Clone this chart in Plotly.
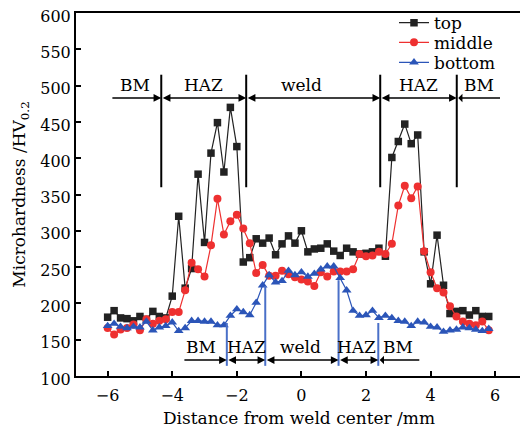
import plotly.graph_objects as go

# distance from weld center (mm)
x_pos = [round(-6.0 + 0.2 * i, 1) for i in range(60)]

top = [181, 190, 180, 179, 176, 182, 178, 189, 182, 180,
       210, 320, 221, 248, 378, 284, 407, 449, 381, 470,
       416, 257, 263, 289, 283, 290, 267, 282, 293, 283,
       300, 271, 275, 276, 282, 272, 266, 276, 271, 268,
       269, 271, 276, 265, 401, 423, 447, 420, 432, 271,
       227, 294, 225, 186, 189, 190, 184, 190, 182, 182]

middle = [166, 157, 164, 166, 171, 163, 178, 172, 176, 178,
          188, 188, 218, 256, 247, 237, 280, 344, 295, 313,
          322, 303, 283, 242, 253, 238, 238, 245, 240, 236,
          233, 230, 224, 243, 237, 244, 244, 244, 247, 268,
          265, 266, 271, 268, 282, 335, 362, 345, 361, 272,
          243, 221, 215, 196, 182, 175, 172, 170, 175, 163]

bottom = [169, 172, 168, 166, 168, 167, 175, 163, 167, 169,
          174, 162, 166, 176, 176, 175, 175, 170, 170, 183,
          192, 188, 184, 201, 225, 239, 229, 231, 245, 239,
          243, 237, 241, 247, 251, 251, 235, 218, 190, 183,
          184, 190, 180, 183, 180, 176, 175, 169, 175, 174,
          168, 167, 161, 163, 164, 167, 166, 164, 162, 165]

# zone boundaries and labels
top_bounds = [-4.34, -1.71, 2.44, 4.81]
top_span = [-5.9, 6.15]
top_labels = ["BM", "HAZ", "weld", "HAZ", "BM"]
top_label_x = [-5.15, -3.04, 0.0, 3.64, 5.5]

bot_bounds = [-2.31, -1.12, 1.15, 2.38]
bot_span = [-3.67, 3.65]
bot_labels = ["BM", "HAZ", "weld", "HAZ", "BM"]
bot_label_x = [-3.11, -1.71, -0.04, 1.71, 3.0]
bot_line_top = [173, 224, 232, 173]

FONT = "DejaVu Serif"
BLACK = "#222222"
RED = "#ee3030"
BLUE = "#2b55b8"

fig = go.Figure()
fig.add_trace(go.Scatter(x=x_pos, y=top, name="top", mode="lines+markers",
                         line=dict(color=BLACK, width=1.2), legend="legend",
                         marker=dict(symbol="square", size=7.5, color=BLACK)))
fig.add_trace(go.Scatter(x=x_pos, y=middle, name="middle", mode="lines+markers",
                         line=dict(color=RED, width=1.2), legend="legend2",
                         marker=dict(symbol="circle", size=8, color=RED)))
fig.add_trace(go.Scatter(x=x_pos, y=bottom, name="bottom", mode="lines+markers",
                         line=dict(color=BLUE, width=1.2), legend="legend3",
                         marker=dict(symbol="triangle-up", size=8.5, color=BLUE)))

shapes = []
for b in top_bounds:
    shapes.append(dict(type="line", xref="x", yref="y", x0=b, x1=b, y0=360, y1=515,
                       line=dict(color="black", width=2)))
for b, yt in zip(bot_bounds, bot_line_top):
    shapes.append(dict(type="line", xref="x", yref="y", x0=b, x1=b, y0=114, y1=yt,
                       line=dict(color="#4a70c8", width=2)))

annotations = []

def add_arrows(span, bounds, yv):
    pts = [span[0]] + bounds + [span[1]]
    n = len(pts) - 1
    for i in range(n):
        a, b = pts[i], pts[i + 1]
        if i == 0:
            side = "end"
        elif i == n - 1:
            side = "start"
        else:
            side = "end+start"
        annotations.append(dict(x=b, y=yv, ax=a, ay=yv, xref="x", yref="y",
                                axref="x", ayref="y", text="", showarrow=True,
                                arrowhead=2, arrowsize=1.1, arrowwidth=1.4,
                                arrowcolor="black", arrowside=side,
                                standoff=0, startstandoff=0))

add_arrows(top_span, top_bounds, 483)
add_arrows(bot_span, bot_bounds, 122)
for t, xv in zip(top_labels, top_label_x):
    annotations.append(dict(x=xv, y=501, xref="x", yref="y", text=t, showarrow=False,
                            font=dict(family=FONT, size=17, color="black")))
for t, xv in zip(bot_labels, bot_label_x):
    annotations.append(dict(x=xv, y=140, xref="x", yref="y", text=t, showarrow=False,
                            font=dict(family=FONT, size=17, color="black")))

def leg(yv):
    return dict(x=0.713, y=yv, xanchor="left", yanchor="middle",
                bgcolor="rgba(0,0,0,0)", font=dict(family=FONT, size=17),
                itemwidth=30, borderwidth=0)

fig.update_layout(
    width=520, height=423,
    margin=dict(l=68, r=6, t=5, b=55, autoexpand=False),
    paper_bgcolor="white", plot_bgcolor="white",
    font=dict(family=FONT, size=16, color="black"),
    shapes=shapes, annotations=annotations,
    legend=leg(0.972), legend2=leg(0.918), legend3=leg(0.863),
    showlegend=True,
)
fig.update_xaxes(range=[-6.98, 6.83], tickvals=[-6, -4, -2, 0, 2, 4, 6],
                 ticks="inside", ticklen=5, tickwidth=2, tickcolor="black",
                 showline=True, linewidth=2, linecolor="black", mirror=True,
                 showgrid=False, zeroline=False, automargin=False,
                 ticklabelstandoff=4,
                 tickfont=dict(family=FONT, size=16),
                 title=dict(text="Distance from weld center /mm",
                            font=dict(family=FONT, size=17), standoff=8))
fig.update_yaxes(range=[100, 600], dtick=50,
                 ticks="inside", ticklen=5, tickwidth=2, tickcolor="black",
                 showline=True, linewidth=2, linecolor="black", mirror=True,
                 showgrid=False, zeroline=False, automargin=False,
                 ticklabeloverflow="allow", ticklabelshift=3,
                 tickfont=dict(family=FONT, size=16),
                 title=dict(text="Microhardness /HV<sub>0.2</sub>",
                            font=dict(family=FONT, size=17), standoff=10))

fig.write_html("out.html")
